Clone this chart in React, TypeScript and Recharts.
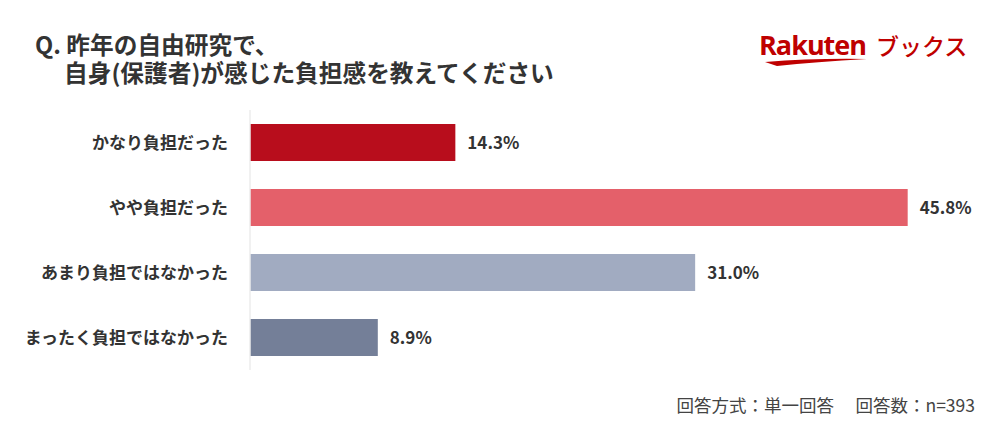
import React from 'react';
import { BarChart, Bar, XAxis, YAxis, Cell, LabelList } from 'recharts';

const categories = ['かなり負担だった', 'やや負担だった', 'あまり負担ではなかった', 'まったく負担ではなかった'];
const values = [14.3, 45.8, 31.0, 8.9];
const colors = ['#B80D1C', '#E4606A', '#A1ABC1', '#747F98'];

const data = categories.map((name, i) => ({ name, value: values[i] }));

const FONT = '"Noto Sans CJK JP", "Noto Sans", sans-serif';

const titleStyle: React.CSSProperties = {
  position: 'absolute',
  fontSize: 23.7,
  fontWeight: 700,
  color: '#333',
  lineHeight: '24px',
  whiteSpace: 'nowrap',
};

export default function App() {
  return (
    <div style={{ position: 'absolute', left: 0, top: 0, width: 1000, height: 438, background: '#fff', fontFamily: FONT }}>
      <div style={{ ...titleStyle, left: 35, top: 32 }}>Q. 昨年の自由研究で、</div>
      <div style={{ ...titleStyle, left: 64, top: 60 }}>自身(保護者)が感じた負担感を教えてください</div>
      <svg style={{ position: 'absolute', left: 750, top: 24 }} width={235} height={50}>
        <text x={9} y={31} fontFamily={'"Open Sans", "Noto Sans", sans-serif'} fontWeight={700} fontSize={27} fill="#BF0000" letterSpacing={-1}>Rakuten</text>
        <path d="M 15 38 Q 65 34 117 35 Q 65 38 27 42 Z" fill="#BF0000" />
        <text x={126} y={31} fontFamily={FONT} fontWeight={500} fontSize={23} fill="#BF0000">ブックス</text>
      </svg>
      <BarChart
        width={1000}
        height={438}
        data={data}
        layout="vertical"
        margin={{ top: 110, right: 32, bottom: 68, left: 0 }}
        barCategoryGap={14}
        style={{ position: 'absolute', left: 0, top: 0 }}
      >
        <XAxis type="number" domain={[0, 50]} hide />
        <YAxis
          type="category"
          dataKey="name"
          width={250}
          tickLine={false}
          tickSize={0}
          tickMargin={22}
          axisLine={{ stroke: '#ececec', strokeWidth: 1.5 }}
          tick={{ fontSize: 17, fontWeight: 700, fill: '#333', fontFamily: FONT }}
        />
        <Bar dataKey="value" isAnimationActive={false}>
          {data.map((d, i) => (
            <Cell key={d.name} fill={colors[i]} />
          ))}
          <LabelList
            dataKey="value"
            position="right"
            offset={12}
            formatter={(v: number) => `${v.toFixed(1)}%`}
            style={{ fontSize: 17, fontWeight: 700, fill: '#333', fontFamily: FONT }}
          />
        </Bar>
      </BarChart>
      <div style={{ position: 'absolute', right: 25, top: 392, fontSize: 17.5, color: '#444', whiteSpace: 'nowrap' }}>
        回答方式：単一回答　 回答数：n=393
      </div>
    </div>
  );
}
